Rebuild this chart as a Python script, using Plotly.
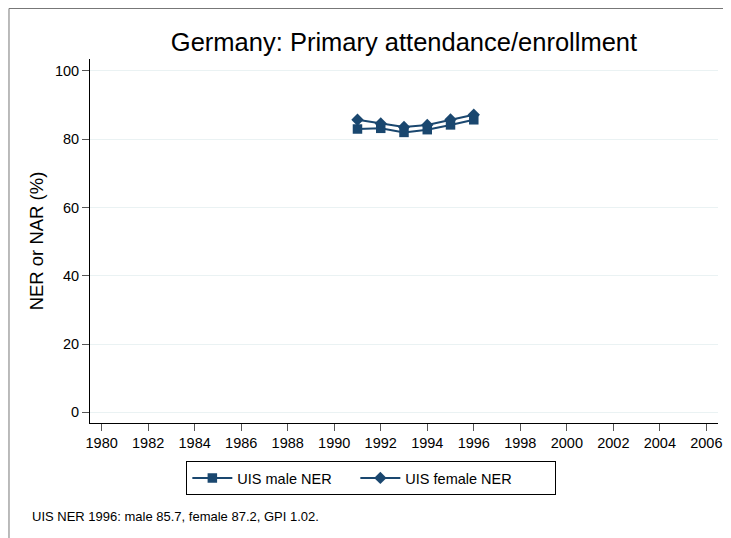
import plotly.graph_objects as go

years = [1991, 1992, 1993, 1994, 1995, 1996]
male_ner = [83.0, 83.2, 82.0, 82.8, 84.2, 85.7]
female_ner = [85.7, 84.6, 83.6, 84.2, 85.8, 87.2]
x_ticks = list(range(1980, 2007, 2))
y_ticks = [0, 20, 40, 60, 80, 100]

navy = "#1a476f"
font_family = "Liberation Sans, Arial, sans-serif"

fig = go.Figure()
fig.add_trace(go.Scatter(
    x=years, y=male_ner, mode="lines+markers", name="UIS male NER",
    line=dict(color=navy, width=2),
    marker=dict(symbol="square", size=9.5, color=navy),
    legendwidth=113,
))
fig.add_trace(go.Scatter(
    x=years, y=female_ner, mode="lines+markers", name="UIS female NER",
    line=dict(color=navy, width=2),
    marker=dict(symbol="diamond", size=9.5, color=navy),
    legendwidth=145,
))

W, H = 723, 530
fig.update_layout(
    width=W, height=H,
    margin=dict(l=82, r=9, t=51, b=115),
    paper_bgcolor="white", plot_bgcolor="white",
    font=dict(family=font_family, color="black", size=14.5),
    title=dict(text="Germany: Primary attendance/enrollment",
               x=0.5, xref="paper", xanchor="center",
               y=1 - 34 / H, yref="container", yanchor="middle",
               font=dict(size=25.5, color="black")),
    showlegend=True,
    legend=dict(orientation="h", x=0.448, xanchor="center", y=-0.1044, yanchor="top",
                bordercolor="black", borderwidth=1, bgcolor="white",
                font=dict(size=14.5), itemwidth=40),
    shapes=[dict(type="rect", xref="paper", yref="paper",
                 x0=-0.129, x1=1.1, y0=-1.0, y1=1.1387,
                 line=dict(color="#777777", width=1), fillcolor="rgba(0,0,0,0)",
                 layer="below")],
    annotations=[dict(text="UIS NER 1996: male 85.7, female 87.2, GPI 1.02.",
                      xref="paper", yref="paper", x=-0.0949, y=-0.2555,
                      xanchor="left", yanchor="middle", showarrow=False,
                      font=dict(size=13, color="black"))],
)

fig.update_xaxes(
    range=[1979.5, 2006.5], tickvals=x_ticks, ticktext=[str(t) for t in x_ticks],
    showgrid=False, zeroline=False,
    showline=True, linecolor="black", linewidth=1,
    ticks="outside", ticklen=7, tickcolor="#555555", tickwidth=1,
    tickfont=dict(size=14.5),
)
fig.update_yaxes(
    range=[-3.1, 103.5], tickvals=y_ticks, ticktext=[str(t) for t in y_ticks],
    showgrid=True, gridcolor="#eaf2f3", gridwidth=1, zeroline=False,
    showline=True, linecolor="black", linewidth=1,
    ticks="outside", ticklen=7, tickcolor="#555555", tickwidth=1,
    tickfont=dict(size=14.5),
    title=dict(text="NER or NAR (%)", font=dict(size=18.5), standoff=6),
)

fig.write_html("out.html")
